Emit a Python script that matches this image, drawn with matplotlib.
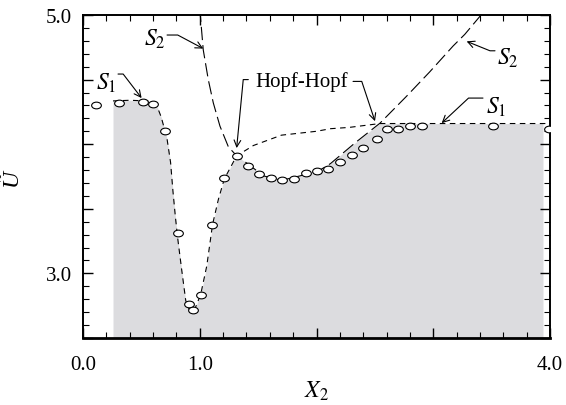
import matplotlib as mpl
mpl.use('agg')
import matplotlib.pyplot as plt
import numpy as np
from matplotlib.path import Path
from matplotlib.transforms import Affine2D
from matplotlib.ticker import FixedLocator, MultipleLocator

plt.rcParams['font.family'] = ['Liberation Serif', 'DejaVu Serif']
plt.rcParams['mathtext.fontset'] = 'stix'

# experiment points (open circles)
pts_x = [0.108, 0.308, 0.51, 0.60, 0.70, 0.81, 0.908, 0.945, 1.01, 1.108,
         1.208, 1.316, 1.416, 1.51, 1.608, 1.705, 1.807, 1.91, 2.007, 2.10,
         2.20, 2.30, 2.40, 2.515, 2.60, 2.70, 2.80, 2.90, 3.51, 3.99]
pts_u = [4.305, 4.316, 4.326, 4.31, 4.106, 3.31, 2.762, 2.718, 2.835, 3.374,
         3.742, 3.909, 3.832, 3.773, 3.736, 3.723, 3.729, 3.775, 3.793, 3.806,
         3.86, 3.92, 3.97, 4.04, 4.12, 4.12, 4.14, 4.14, 4.14, 4.12]

# S1 boundary (short dashes)
s1_x = [0.257, 0.40, 0.55, 0.60, 0.64, 0.67, 0.70, 0.72, 0.75, 0.77, 0.79,
        0.81, 0.845, 0.88, 0.91, 0.945, 1.008, 1.06, 1.11, 1.16, 1.21, 1.316,
        1.46, 1.70, 2.00, 2.12, 2.28, 2.544, 2.8, 3.2, 4.0]
s1_u = [4.335, 4.34, 4.335, 4.32, 4.28, 4.21, 4.11, 4.04, 3.86, 3.64, 3.45,
        3.28, 3.03, 2.79, 2.72, 2.695, 2.837, 3.057, 3.38, 3.574, 3.73, 3.91,
        3.99, 4.07, 4.10, 4.12, 4.13, 4.16, 4.16, 4.16, 4.16]

# S2 boundary (long dashes)
s2_x = [1.0, 1.03, 1.073, 1.116, 1.173, 1.245, 1.316, 1.416, 1.545, 1.70,
        1.86, 2.03, 2.12, 2.33, 2.544, 2.77, 2.97, 3.17, 3.27, 3.40, 3.43]
s2_u = [5.05, 4.73, 4.50, 4.32, 4.14, 3.98, 3.91, 3.845, 3.755, 3.72,
        3.755, 3.80, 3.85, 4.01, 4.163, 4.37, 4.56, 4.76, 4.85, 4.99, 5.03]

fill_x0, fill_x1 = 0.257, 3.94

fig = plt.figure(figsize=(5.66, 4.06), dpi=100)
ax = fig.add_axes([83 / 566, 1 - 339 / 406, 467 / 566, 323 / 406])

# shaded stable region under the lower envelope of S1 and S2
gx = np.linspace(fill_x0, fill_x1, 3000)
top1 = np.interp(gx, s1_x, s1_u)
top2 = np.where((gx >= s2_x[0]) & (gx <= s2_x[-1]), np.interp(gx, s2_x, s2_u), np.inf)
ax.fill_between(gx, 2.5, np.minimum(top1, top2), color='#dcdcdf', lw=0, zorder=1)

l1, = ax.plot(s1_x, s1_u, color='black', lw=0.8, zorder=3)
l1.set_dashes((5, 4))
l2, = ax.plot(s2_x, s2_u, color='black', lw=0.8, zorder=3)
l2.set_dashes((12, 4.5))

ell = Path.unit_circle().transformed(Affine2D().scale(1.45, 1.0))
ax.plot(pts_x, pts_u, ls='none', marker=ell, ms=7, mfc='white', mec='black',
        mew=0.8, zorder=4)

ax.set_xlim(0, 4.0)
ax.set_ylim(2.5, 5.0)

# ticks
ax.xaxis.set_major_locator(FixedLocator([0, 1, 2, 3, 4]))
ax.xaxis.set_minor_locator(MultipleLocator(0.2))
ax.set_xticklabels(['0.0', '1.0', '', '', '4.0'])
ax.yaxis.set_major_locator(FixedLocator([2.5, 3.0, 3.5, 4.0, 4.5, 5.0]))
ax.yaxis.set_minor_locator(MultipleLocator(0.1))
ax.set_yticklabels(['', '3.0', '', '', '', '5.0'])
ax.tick_params(which='both', direction='in', top=True, right=True, labelsize=15)
ax.tick_params(which='major', length=7, width=1)
ax.tick_params(which='minor', length=4, width=0.8)
ax.tick_params(axis='x', pad=12)
ax.tick_params(axis='y', pad=8)

for s in ax.spines.values():
    s.set_linewidth(1.4)
ax.spines['bottom'].set_linewidth(2)

ax.set_xlabel(r'$X_2$', fontsize=17)
ax.xaxis.set_label_coords(0.5, -0.163)
ax.xaxis.label.set_va('center')
ax.set_ylabel('Ũ', fontsize=17, style='italic')
ax.yaxis.set_label_coords(-0.154, 0.5)
ax.yaxis.label.set_va('center')

arr = dict(arrowstyle='->', color='black', lw=0.8, shrinkA=0, shrinkB=0,
           mutation_scale=12)


def label_arrow(txt, tx, ty, ha, start, tip, angB):
    ax.text(tx, ty, txt, ha=ha, va='center', fontsize=17, zorder=5)
    a = dict(arr)
    a['connectionstyle'] = 'angle,angleA=0,angleB=%g,rad=0' % angB
    ax.annotate('', xy=tip, xytext=start, arrowprops=a, zorder=5)


label_arrow(r'$S_2$', 0.71, 4.82, 'right', (0.72, 4.845), (1.03, 4.74), 152)
label_arrow(r'$S_{\mathit{1}}$', 0.285, 4.48, 'right', (0.30, 4.543), (0.502, 4.357), 127.5)
label_arrow(r'$S_2$', 3.545, 4.674, 'left', (3.529, 4.723), (3.286, 4.796), -22)
label_arrow(r'$S_{\mathit{1}}$', 3.455, 4.295, 'left', (3.426, 4.357), (3.072, 4.163), 43)

ax.text(1.871, 4.49, 'Hopf-Hopf', ha='center', va='center', fontsize=15, zorder=5)
a = dict(arr)
a['connectionstyle'] = 'angle,angleA=0,angleB=84.5,rad=0'
ax.annotate('', xy=(1.316, 3.97), xytext=(1.416, 4.50), arrowprops=a, zorder=5)
a = dict(arr)
a['connectionstyle'] = 'angle,angleA=0,angleB=108.4,rad=0'
ax.annotate('', xy=(2.501, 4.178), xytext=(2.313, 4.486), arrowprops=a, zorder=5)

plt.savefig('out.png', dpi=100)
